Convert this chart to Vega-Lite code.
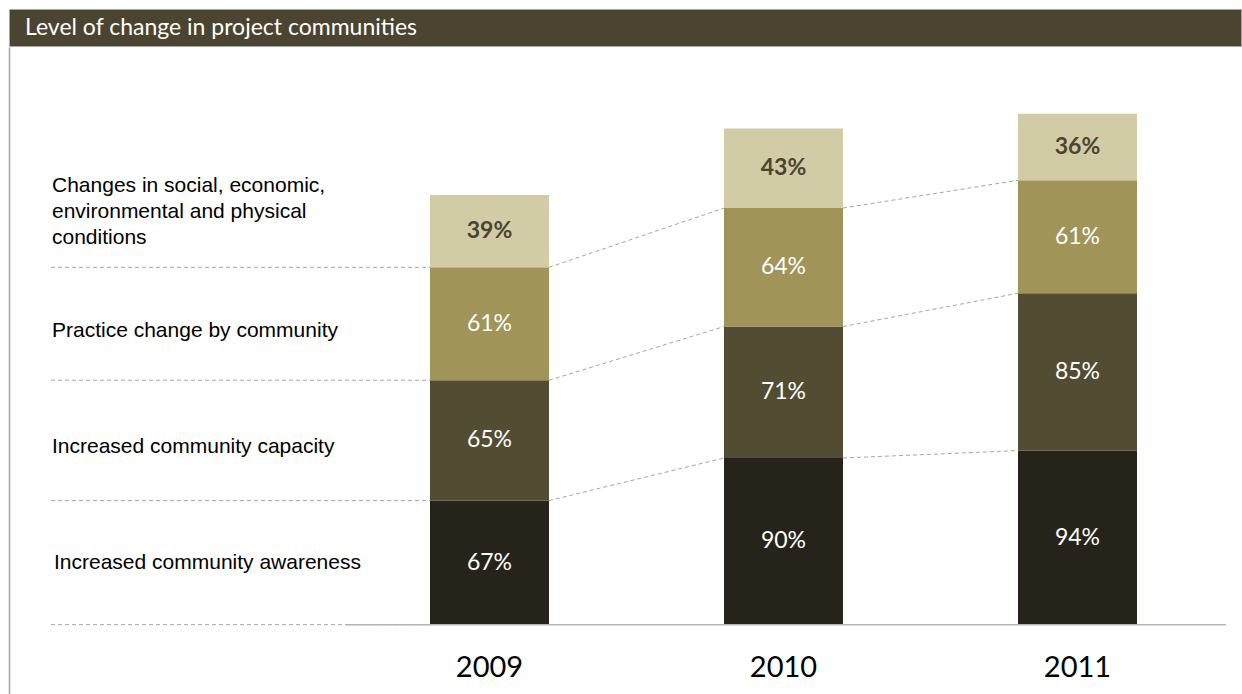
{
  "$schema": "https://vega.github.io/schema/vega-lite/v6.json",
  "padding": {"left": 8, "top": 8, "right": 0, "bottom": 0},
  "background": "white",
  "spacing": 0,
  "config": {"view": {"stroke": null}, "font": "Lato"},
  "datasets": {
    "levels": [
      {"year": 2009, "order": 1, "category": "Increased community awareness", "value": 67},
      {"year": 2009, "order": 2, "category": "Increased community capacity", "value": 65},
      {"year": 2009, "order": 3, "category": "Practice change by community", "value": 61},
      {"year": 2009, "order": 4, "category": "Changes in social, economic,\nenvironmental and physical\nconditions", "value": 39},
      {"year": 2010, "order": 1, "category": "Increased community awareness", "value": 90},
      {"year": 2010, "order": 2, "category": "Increased community capacity", "value": 71},
      {"year": 2010, "order": 3, "category": "Practice change by community", "value": 64},
      {"year": 2010, "order": 4, "category": "Changes in social, economic,\nenvironmental and physical\nconditions", "value": 43},
      {"year": 2011, "order": 1, "category": "Increased community awareness", "value": 94},
      {"year": 2011, "order": 2, "category": "Increased community capacity", "value": 85},
      {"year": 2011, "order": 3, "category": "Practice change by community", "value": 61},
      {"year": 2011, "order": 4, "category": "Changes in social, economic,\nenvironmental and physical\nconditions", "value": 36}
    ],
    "header": [{"title": "Level of change in project communities"}]
  },
  "vconcat": [
    {
      "width": 1232,
      "height": 37,
      "view": {"fill": "#4b4430", "stroke": "#a6a6a6", "strokeWidth": 1},
      "data": {"name": "header"},
      "mark": {"type": "text", "align": "left", "baseline": "middle", "dx": 16, "font": "Lato", "fontSize": 23, "color": "#ffffff"},
      "encoding": {
        "x": {"field": "title", "type": "nominal", "scale": {"type": "point", "align": 0, "padding": 0}, "axis": null},
        "text": {"field": "title", "type": "nominal"}
      }
    },
    {
      "width": 1232,
      "height": 648,
      "data": {"name": "levels"},
      "transform": [
        {"stack": "value", "groupby": ["year"], "sort": [{"field": "order"}], "as": ["v0", "v1"]},
        {"calculate": "(datum.v0 + datum.v1) / 2", "as": "mid"},
        {"calculate": "datum.value + '%'", "as": "label"}
      ],
      "layer": [
        {
          "mark": {"type": "bar", "size": 119},
          "encoding": {
            "x": {"field": "year", "type": "quantitative", "scale": {"domain": [2007.365646, 2011.556122], "nice": false, "zero": false, "padding": 0}, "axis": null},
            "y": {"field": "v0", "type": "quantitative", "scale": {"domain": [-38, 312], "nice": false, "zero": false, "padding": 0},
                  "axis": {"labels": false, "ticks": false, "grid": false, "title": null, "domainColor": "#a6a6a6", "domainWidth": 1.5}},
            "y2": {"field": "v1"},
            "color": {"field": "order", "type": "nominal", "scale": {"domain": [1, 2, 3, 4], "range": ["#26241a", "#524d32", "#a09459", "#d2cca6"]}, "legend": null}
          }
        },
        {
          "transform": [{"filter": "datum.year == 2009"}],
          "mark": {"type": "rule", "strokeDash": [4, 3], "color": "#a6a6a6", "strokeWidth": 1, "xOffset": -438.5, "x2Offset": -59.5},
          "encoding": {
            "x": {"field": "year", "type": "quantitative"},
            "x2": {"field": "year"},
            "y": {"field": "v0", "type": "quantitative"}
          }
        },
        {
          "transform": [
            {"filter": "datum.order == 1"},
            {"aggregate": [{"op": "min", "field": "year", "as": "firstYear"}, {"op": "max", "field": "year", "as": "lastYear"}, {"op": "min", "field": "v0", "as": "base"}]}
          ],
          "mark": {"type": "rule", "color": "#b5b5b5", "strokeWidth": 1.5, "xOffset": -143.5, "x2Offset": 148.5},
          "encoding": {
            "x": {"field": "firstYear", "type": "quantitative"},
            "x2": {"field": "lastYear"},
            "y": {"field": "base", "type": "quantitative"}
          }
        },
        {
          "transform": [
            {"window": [{"op": "lead", "field": "v1", "as": "v1next"}, {"op": "lead", "field": "year", "as": "yearNext"}], "groupby": ["order"], "sort": [{"field": "year"}]},
            {"filter": "datum.yearNext != null && datum.order < 4"}
          ],
          "mark": {"type": "rule", "strokeDash": [4, 3], "color": "#a6a6a6", "strokeWidth": 1, "xOffset": 59.5, "x2Offset": -59.5},
          "encoding": {
            "x": {"field": "year", "type": "quantitative"},
            "x2": {"field": "yearNext"},
            "y": {"field": "v1", "type": "quantitative"},
            "y2": {"field": "v1next"}
          }
        },
        {
          "transform": [{"filter": "datum.order < 4"}],
          "mark": {"type": "text", "align": "center", "baseline": "middle", "font": "Lato", "fontSize": 23, "color": "#ffffff"},
          "encoding": {
            "x": {"field": "year", "type": "quantitative"},
            "y": {"field": "mid", "type": "quantitative"},
            "text": {"field": "label", "type": "nominal"}
          }
        },
        {
          "transform": [{"filter": "datum.order == 4"}],
          "mark": {"type": "text", "align": "center", "baseline": "middle", "font": "Lato", "fontSize": 23, "fontWeight": "bold", "color": "#4b4430"},
          "encoding": {
            "x": {"field": "year", "type": "quantitative"},
            "y": {"field": "mid", "type": "quantitative"},
            "text": {"field": "label", "type": "nominal"}
          }
        },
        {
          "transform": [{"filter": "datum.year == 2009 && datum.order == 1"}],
          "mark": {"type": "text", "align": "left", "baseline": "middle", "dy": 0, "dx": -435.5, "font": "Liberation Sans", "fontSize": 21, "color": "#000000"},
          "encoding": {
            "x": {"field": "year", "type": "quantitative"},
            "y": {"field": "mid", "type": "quantitative"},
            "text": {"field": "category", "type": "nominal"}
          }
        },
        {
          "transform": [{"filter": "datum.year == 2009 && (datum.order == 2 || datum.order == 3)"}],
          "mark": {"type": "text", "align": "left", "baseline": "middle", "dy": 7, "dx": -437.5, "font": "Liberation Sans", "fontSize": 21, "color": "#000000"},
          "encoding": {
            "x": {"field": "year", "type": "quantitative"},
            "y": {"field": "mid", "type": "quantitative"},
            "text": {"field": "category", "type": "nominal"}
          }
        },
        {
          "transform": [{"filter": "datum.year == 2009 && datum.order == 4"}],
          "mark": {"type": "text", "align": "left", "baseline": "middle", "dy": -45, "dx": -437.5, "font": "Liberation Sans", "fontSize": 21, "lineBreak": "\n", "lineHeight": 26, "color": "#000000"},
          "encoding": {
            "x": {"field": "year", "type": "quantitative"},
            "y": {"field": "mid", "type": "quantitative"},
            "text": {"field": "category", "type": "nominal"}
          }
        },
        {
          "transform": [{"filter": "datum.order == 1"}],
          "mark": {"type": "text", "align": "center", "baseline": "middle", "dy": 43, "font": "Lato", "fontSize": 29, "color": "#000000"},
          "encoding": {
            "x": {"field": "year", "type": "quantitative"},
            "y": {"field": "v0", "type": "quantitative"},
            "text": {"field": "year", "type": "quantitative", "format": "d"}
          }
        }
      ]
    }
  ]
}
